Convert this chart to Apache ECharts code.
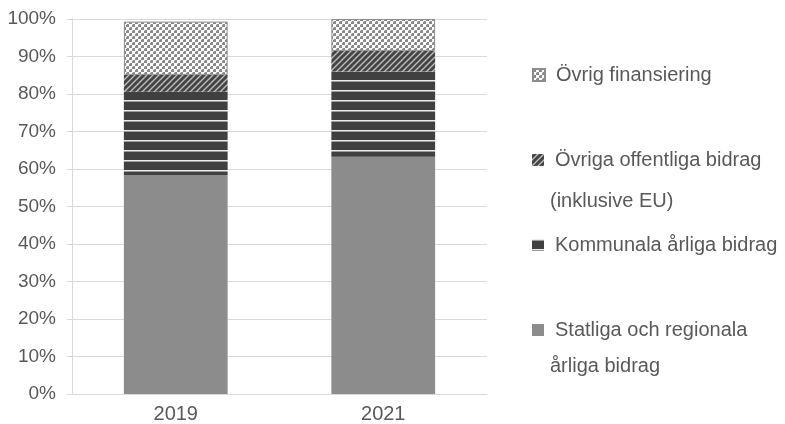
<!DOCTYPE html>
<html>
<head>
<meta charset="utf-8">
<script src="https://cdn.jsdelivr.net/npm/echarts@6/dist/echarts.min.js"></script>
<style>
html, body { margin: 0; padding: 0; background: #fff; }
#main { width: 785px; height: 424px; }
</style>
</head>
<body>
<div id="main"></div>
<script>
// data
var years = ['2019', '2021'];
var statliga = [58.4, 63.3];
var kommunala = [22.2, 22.7];
var ovrigaOffentliga = [4.5, 5.5];
var ovrigFinansiering = [14.2, 8.5];

var FONT = 'Liberation Sans, Arial, sans-serif';
var TEXT = '#595959';

// fill patterns
function makePattern(w, h, draw) {
    var c = document.createElement('canvas');
    c.width = w;
    c.height = h;
    draw(c.getContext('2d'));
    return { image: c, repeat: 'repeat' };
}
var stripes = makePattern(4, 10, function(ctx) {
    ctx.fillStyle = '#404040';
    ctx.fillRect(0, 0, 4, 10);
    ctx.fillStyle = '#ececec';
    ctx.fillRect(0, 0, 4, 1);
    ctx.fillStyle = '#9a9a9a';
    ctx.fillRect(0, 1, 4, 1);
});
var diagonal = makePattern(6, 6, function(ctx) {
    ctx.fillStyle = '#444444';
    ctx.fillRect(0, 0, 6, 6);
    ctx.strokeStyle = '#bdbdbd';
    ctx.lineWidth = 1.4;
    ctx.beginPath();
    ctx.moveTo(-1, 7); ctx.lineTo(7, -1);
    ctx.moveTo(-4, 4); ctx.lineTo(4, -4);
    ctx.moveTo(2, 10); ctx.lineTo(10, 2);
    ctx.stroke();
});
var checker = makePattern(6, 6, function(ctx) {
    ctx.fillStyle = '#ffffff';
    ctx.fillRect(0, 0, 6, 6);
    ctx.fillStyle = '#8a8a8a';
    ctx.fillRect(0, 0, 3, 3);
    ctx.fillRect(3, 3, 3, 3);
    ctx.fillStyle = '#d6d6d6';
    ctx.fillRect(0, 0, 1, 1);
    ctx.fillRect(3, 3, 1, 1);
});

var chart = echarts.init(document.getElementById('main'));

function oneLegend(name, top) {
    return {
        data: [name],
        left: 527,
        top: top,
        orient: 'vertical',
        icon: 'rect',
        itemWidth: 12,
        itemHeight: 12,
        selectedMode: false,
        formatter: function(n) { return n.split('\n')[0]; },
        textStyle: { fontFamily: FONT, fontSize: 20, color: TEXT, padding: [0, 0, 0, 6] }
    };
}

var option = {
    animation: false,
    backgroundColor: '#fff',
    grid: { left: 72, right: 298, top: 19, bottom: 30 },
    legend: [
        oneLegend('Övrig finansiering', 60),
        oneLegend('Övriga offentliga bidrag\n(inklusive EU)', 145),
        oneLegend('Kommunala årliga bidrag', 230),
        oneLegend('Statliga och regionala\nårliga bidrag', 315)
    ],
    graphic: [
        { type: 'text', left: 550, top: 191, style: { text: '(inklusive EU)', font: '20px ' + FONT, fill: TEXT } },
        { type: 'text', left: 550, top: 356, style: { text: 'årliga bidrag', font: '20px ' + FONT, fill: TEXT } }
    ],
    xAxis: {
        type: 'category',
        data: years,
        axisLine: { lineStyle: { color: '#d9d9d9' } },
        axisTick: { show: false },
        axisLabel: { fontFamily: FONT, fontSize: 20, color: TEXT, margin: 10 }
    },
    yAxis: {
        type: 'value',
        min: 0,
        max: 100,
        interval: 10,
        axisLine: { show: true, lineStyle: { color: '#d9d9d9' } },
        axisTick: { show: true, length: 5, lineStyle: { color: '#d9d9d9' } },
        splitLine: { lineStyle: { color: '#d9d9d9' } },
        axisLabel: { fontFamily: FONT, fontSize: 19, color: TEXT, margin: 16, formatter: '{value}%' }
    },
    series: [
        { name: 'Statliga och regionala\nårliga bidrag', type: 'bar', stack: 'a', barWidth: '50%', data: statliga, itemStyle: { color: '#8c8c8c' } },
        { name: 'Kommunala årliga bidrag', type: 'bar', stack: 'a', data: kommunala, itemStyle: { color: stripes } },
        { name: 'Övriga offentliga bidrag\n(inklusive EU)', type: 'bar', stack: 'a', data: ovrigaOffentliga, itemStyle: { color: diagonal } },
        { name: 'Övrig finansiering', type: 'bar', stack: 'a', data: ovrigFinansiering, itemStyle: { color: checker, borderColor: '#8c8c8c', borderWidth: 1 } }
    ]
};
chart.setOption(option);
</script>
</body>
</html>
